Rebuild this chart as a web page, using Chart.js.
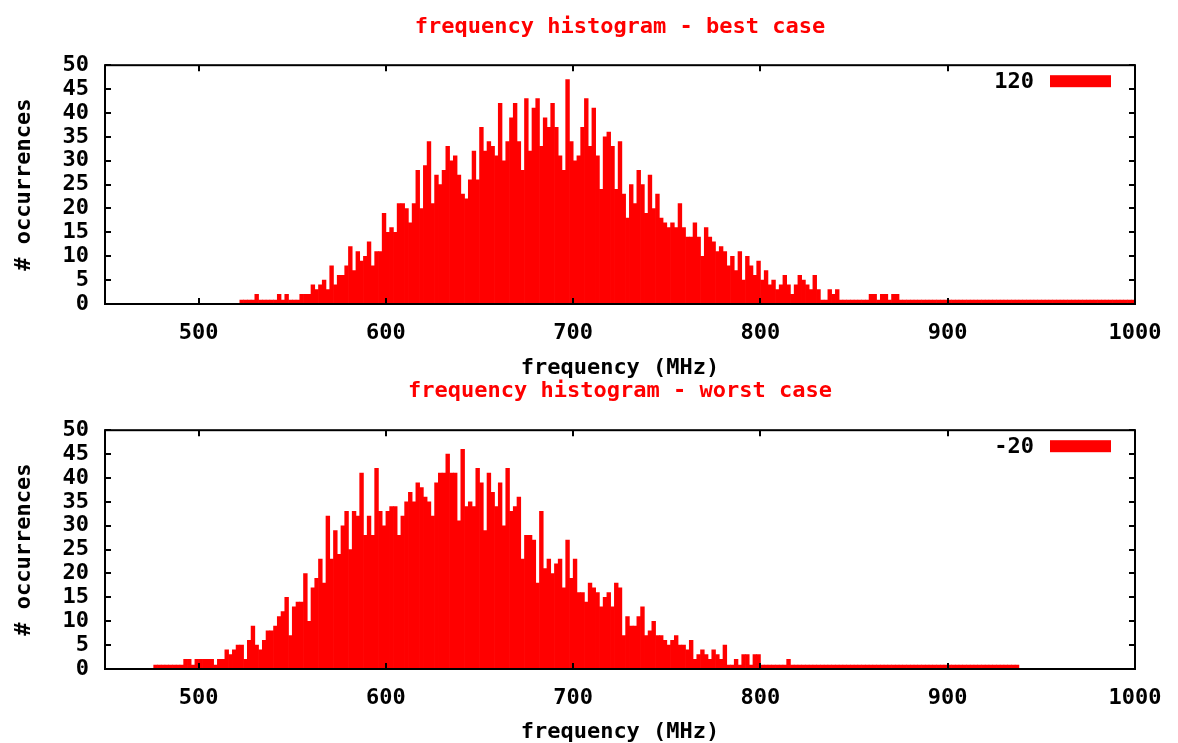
<!DOCTYPE html>
<html>
<head>
<meta charset="utf-8">
<script src="https://cdn.jsdelivr.net/npm/chart.js@4.4.1/dist/chart.umd.min.js"></script>
<style>
html,body{margin:0;padding:0;background:#fff;}
#wrap{position:relative;width:1178px;height:743px;overflow:hidden;}
canvas{position:absolute;left:0;}
#c1{top:0;}
#c2{top:379px;}
</style>
</head>
<body>
<div id="wrap">
<canvas id="c1" width="1178" height="379"></canvas>
<canvas id="c2" width="1178" height="364"></canvas>
</div>
<script>
// bin width in MHz, bins are centred on start + i*binWidth
const binWidth=2;
const xTicks=[500,600,700,800,900,1000];

// best case (120): first bin centre 523 MHz
const bestStart=523;
const bestCounts=[
  0,0,0,0,2,0,0,0,0,0,
  2,0,2,0,0,0,2,2,2,4,
  3,4,5,3,8,4,6,6,8,12,
  7,11,9,10,13,8,11,11,19,15,
  16,15,21,21,20,17,21,28,20,29,
  34,21,27,25,28,33,30,31,27,23,
  22,26,32,26,37,32,34,33,31,42,
  30,34,39,42,34,28,43,32,41,43,
  33,39,37,42,37,31,28,47,34,30,
  31,37,43,33,41,31,24,35,36,33,
  24,34,23,18,25,21,28,25,19,27,
  20,23,18,17,16,17,16,21,16,14,
  14,17,14,10,16,14,13,11,12,11,
  8,10,7,11,5,10,8,6,9,5,
  7,4,5,3,4,6,4,2,4,6,
  5,4,3,6,3,0,0,3,2,3,
  0,0,0,0,0,0,0,0,2,2,
  0,2,2,0,2,2,0,0,0,0,
  0,0,0,0,0,0,0,0,0,0,
  0,0,0,0,0,0,0,0,0,0,
  0,0,0,0,0,0,0,0,0,0,
  0,0,0,0,0,0,0,0,0,0,
  0,0,0,0,0,0,0,0,0,0,
  0,0,0,0,0,0,0,0,0
];

// worst case (-20): first bin centre 477 MHz
const worstStart=477;
const worstCounts=[
  0,0,0,0,0,0,0,0,2,2,
  0,2,2,2,2,2,0,2,2,4,
  3,4,5,5,2,6,9,5,4,6,
  8,8,9,11,12,15,7,13,14,14,
  20,10,17,19,23,18,32,23,29,24,
  30,33,25,33,32,41,28,32,28,42,
  33,30,33,34,34,28,32,35,37,35,
  39,38,36,35,32,39,41,41,45,41,
  41,31,46,34,35,34,42,39,29,41,
  37,34,39,30,42,33,34,36,23,28,
  28,27,18,33,21,23,20,22,23,17,
  27,19,23,16,16,14,18,17,16,13,
  15,16,13,18,17,7,11,9,9,11,
  13,7,8,10,7,7,6,5,6,7,
  5,5,4,6,2,3,4,3,2,4,
  3,2,5,0,0,2,0,3,3,0,
  3,3,0,0,0,0,0,0,0,2,
  0,0,0,0,0,0,0,0,0,0,
  0,0,0,0,0,0,0,0,0,0,
  0,0,0,0,0,0,0,0,0,0,
  0,0,0,0,0,0,0,0,0,0,
  0,0,0,0,0,0,0,0,0,0,
  0,0,0,0,0,0,0,0,0,0,
  0
];

Chart.defaults.font.family="'DejaVu Sans Mono', monospace";
Chart.defaults.font.size=22;
Chart.defaults.font.weight='bold';
Chart.defaults.color='#000';

// gnuplot style box with inward ticks on all four sides
const frame={
  id:'frame',
  afterDatasetsDraw(chart){
    const {ctx,chartArea:a,scales:{x,y}}=chart;
    ctx.save();
    ctx.strokeStyle='#000';
    ctx.lineWidth=2;
    ctx.beginPath();
    x.ticks.forEach(t=>{
      const px=Math.round(x.getPixelForValue(t.value));
      ctx.moveTo(px,a.top);ctx.lineTo(px,a.top+6);
      ctx.moveTo(px,a.bottom);ctx.lineTo(px,a.bottom-6);
    });
    y.ticks.forEach(t=>{
      const py=Math.round(y.getPixelForValue(t.value));
      ctx.moveTo(a.left,py);ctx.lineTo(a.left+6,py);
      ctx.moveTo(a.right,py);ctx.lineTo(a.right-6,py);
    });
    ctx.stroke();
    ctx.strokeRect(a.left,a.top,a.right-a.left,a.bottom-a.top);
    ctx.restore();
  }
};

// key in the top right corner: label then a red sample box
const key={
  id:'key',
  afterDraw(chart){
    const {ctx,chartArea:a}=chart;
    const ds=chart.data.datasets[0];
    ctx.save();
    ctx.font="bold 22px 'DejaVu Sans Mono', monospace";
    ctx.fillStyle='#000';
    ctx.textAlign='right';
    ctx.textBaseline='middle';
    ctx.fillText(ds.label,a.right-101,a.top+17);
    ctx.fillStyle=ds.backgroundColor;
    ctx.fillRect(a.right-85,a.top+10,61,12);
    ctx.restore();
  }
};

function makeChart(id,title,label,start,counts,titlePad,axisH){
  const data=counts.map((v,i)=>({x:start+i*binWidth,y:v}));
  return new Chart(document.getElementById(id),{
    type:'bar',
    data:{datasets:[{
      label,data,
      backgroundColor:'#ff0000',
      borderWidth:0,
      barPercentage:1,
      categoryPercentage:1,
      minBarLength:4
    }]},
    options:{
      responsive:false,
      animation:false,
      layout:{padding:{left:0,right:43,top:0,bottom:0}},
      plugins:{
        legend:{display:false},
        tooltip:{enabled:false},
        title:{display:true,fullSize:false,text:title,color:'#ff0000',
          font:{size:22,weight:'bold',lineHeight:1.1},padding:titlePad}
      },
      scales:{
        x:{type:'linear',min:450,max:1000,offset:false,
          afterBuildTicks(s){s.ticks=xTicks.map(v=>({value:v}));},
          ticks:{padding:16,maxRotation:0,autoSkip:false,callback:v=>String(v)},
          grid:{display:false,drawTicks:false},
          border:{display:false},
          title:{display:true,text:'frequency (MHz)',font:{lineHeight:1},padding:{top:0,bottom:0}},
          afterFit(s){s.height=axisH;}
        },
        y:{min:0,max:50,
          ticks:{stepSize:5,padding:16,autoSkip:false,font:{lineHeight:1}},
          grid:{display:false,drawTicks:false},
          border:{display:false},
          title:{display:true,text:'# occurrences',font:{lineHeight:1},padding:{top:13,bottom:0}},
          afterFit(s){s.width=105;}
        }
      }
    },
    plugins:[frame,key]
  });
}

makeChart('c1','frequency histogram - best case','120',bestStart,bestCounts,{top:15,bottom:26},75);
makeChart('c2','frequency histogram - worst case','-20',worstStart,worstCounts,{top:0,bottom:27},74);
</script>
</body>
</html>
